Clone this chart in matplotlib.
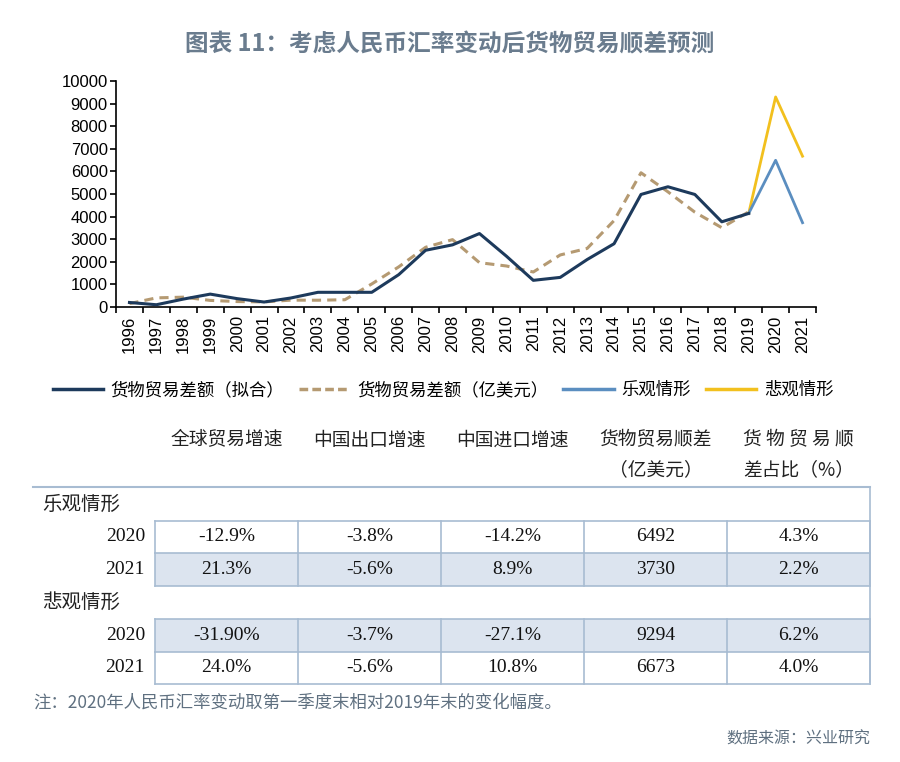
import matplotlib
matplotlib.use("Agg")
import matplotlib.pyplot as plt
from matplotlib.lines import Line2D
from matplotlib.patches import Rectangle

plt.rcParams["font.family"] = ["Noto Sans CJK SC", "DejaVu Sans"]

# ---- data ----
years = list(range(1996, 2022))
fitted = [200, 100, 350, 570, 370, 220, 400, 650, 650, 650, 1430, 2510, 2750,
          3250, 2250, 1180, 1310, 2100, 2800, 4980, 5320, 4980, 3770, 4140]
actual = [150, 404, 435, 292, 241, 226, 304, 300, 321, 1020, 1775, 2643, 2981,
          1961, 1815, 1549, 2303, 2592, 3825, 5939, 5097, 4196, 3509, 4211]
scen_years = [2019, 2020, 2021]
opt_balance = [4140, 6492, 3730]
pes_balance = [4140, 9294, 6673]

legend_labels = ["货物贸易差额（拟合）", "货物贸易差额（亿美元）", "乐观情形", "悲观情形"]
col_headers = ["全球贸易增速", "中国出口增速", "中国进口增速",
               "货物贸易顺差\n（亿美元）", "货 物 贸 易 顺\n差占比（%）"]
sections = ["乐观情形", "悲观情形"]
row_years = ["2020", "2021"]
opt_rows = [["-12.9%", "-3.8%", "-14.2%", "6492", "4.3%"],
            ["21.3%", "-5.6%", "8.9%", "3730", "2.2%"]]
pes_rows = [["-31.90%", "-3.7%", "-27.1%", "9294", "6.2%"],
            ["24.0%", "-5.6%", "10.8%", "6673", "4.0%"]]
shaded = [[False, True], [True, False]]

title = "图表 11：考虑人民币汇率变动后货物贸易顺差预测"
note = "注：2020年人民币汇率变动取第一季度末相对2019年末的变化幅度。"
source = "数据来源：兴业研究"

navy = "#1d3a5c"
tan = "#b59a72"
lblue = "#5b8ec0"
yellow = "#f2c01e"
border = "#a8bcd2"
fill = "#dce4ef"
gray = "#5f7080"

W, H = 900, 762
fig = plt.figure(figsize=(W / 100, H / 100), dpi=100)

# ---- line chart ----
ax = fig.add_axes([116 / W, 1 - 307 / H, 700 / W, 226 / H])
idx = {y: i for i, y in enumerate(years)}
ax.plot([idx[y] for y in years[:len(fitted)]], fitted, color=navy, lw=2.2, zorder=4)
ax.plot([idx[y] for y in years[:len(actual)]], actual, color=tan, lw=2.2,
        dashes=(3, 2), zorder=3)
ax.plot([idx[y] for y in scen_years], pes_balance, color=yellow, lw=2.0, zorder=2)
ax.plot([idx[y] for y in scen_years], opt_balance, color=lblue, lw=2.0, zorder=2)

ax.set_xlim(-0.5, len(years) - 0.5)
ax.set_ylim(0, 10000)
ax.set_yticks(range(0, 10001, 1000))
ax.set_xticks(range(len(years)))
ax.set_xticklabels([str(y) for y in years], rotation=90, family="Liberation Sans")
ax.set_xticks([i - 0.5 for i in range(len(years) + 1)], minor=True)
ax.tick_params(axis="x", which="major", length=0, labelsize=12, pad=6)
ax.tick_params(axis="x", which="minor", length=4, width=1.2, direction="out")
ax.tick_params(axis="y", length=4, width=1.2, labelsize=12, pad=2)
for lab in ax.get_yticklabels():
    lab.set_family("Liberation Sans")
for s in ["top", "right"]:
    ax.spines[s].set_visible(False)
for s in ["left", "bottom"]:
    ax.spines[s].set_linewidth(1.2)
ax.patch.set_alpha(0)

handles = [Line2D([], [], color=navy, lw=2.5),
           Line2D([], [], color=tan, lw=2.5, dashes=(2.5, 1.2)),
           Line2D([], [], color=lblue, lw=2.5),
           Line2D([], [], color=yellow, lw=2.5)]
fig.legend(handles, legend_labels, loc="center", bbox_to_anchor=(443 / W, 1 - 390 / H),
           ncol=4, frameon=False, fontsize=12.5, handlelength=2.9, handletextpad=0.45,
           columnspacing=0.85)

fig.text(0.5, 1 - 45 / H, title, ha="center", va="center", fontsize=17,
         fontweight="bold", color="#6a7c8e")

# ---- table (drawn in pixel coordinates on an overlay) ----
tab = fig.add_axes([0, 0, 1, 1], zorder=-1)
tab.set_xlim(0, W)
tab.set_ylim(H, 0)
tab.axis("off")

x0, cw = 155, 143
col_x = [x0 + i * cw for i in range(len(col_headers) + 1)]
right = col_x[-1]
rh = 32.5

for i, h in enumerate(col_headers):
    cx = (col_x[i] + col_x[i + 1]) / 2
    for j, line in enumerate(h.split("\n")):
        tab.text(cx, 440 + j * 30, line, ha="center", va="center", fontsize=13.5,
                 color="#222222")

tab.plot([33, right], [487, 487], color=border, lw=1.5)
tab.plot([right, right], [487, 682], color=border, lw=1.2)

top = 487
for si, (name, rows) in enumerate(zip(sections, [opt_rows, pes_rows])):
    tab.text(42, top + 17, name, ha="left", va="center", fontsize=14, color="#222222")
    y = top + 33.5
    for ri, (yr, vals) in enumerate(zip(row_years, rows)):
        if shaded[si][ri]:
            tab.add_patch(Rectangle((x0, y), right - x0, rh, facecolor=fill,
                                    edgecolor="none", zorder=0))
        tab.text(145, y + rh / 2, yr, ha="right", va="center", fontsize=14,
                 family="Liberation Serif", color="#111111")
        for ci, v in enumerate(vals):
            cx = (col_x[ci] + col_x[ci + 1]) / 2
            tab.text(cx, y + rh / 2, v, ha="center", va="center", fontsize=14,
                     family="Liberation Serif", color="#111111")
        for cx in col_x:
            tab.plot([cx, cx], [y, y + rh], color=border, lw=1.2, zorder=1)
        tab.plot([x0, right], [y, y], color=border, lw=1.2, zorder=1)
        y += rh
    tab.plot([x0, right], [y, y], color=border, lw=1.2, zorder=1)
    top = y

fig.text(33 / W, 1 - 703 / H, note, ha="left", va="center", fontsize=12.5, color=gray)
fig.text(870 / W, 1 - 739 / H, source, ha="right", va="center", fontsize=11.5, color=gray)

fig.savefig("out.png", dpi=100)
